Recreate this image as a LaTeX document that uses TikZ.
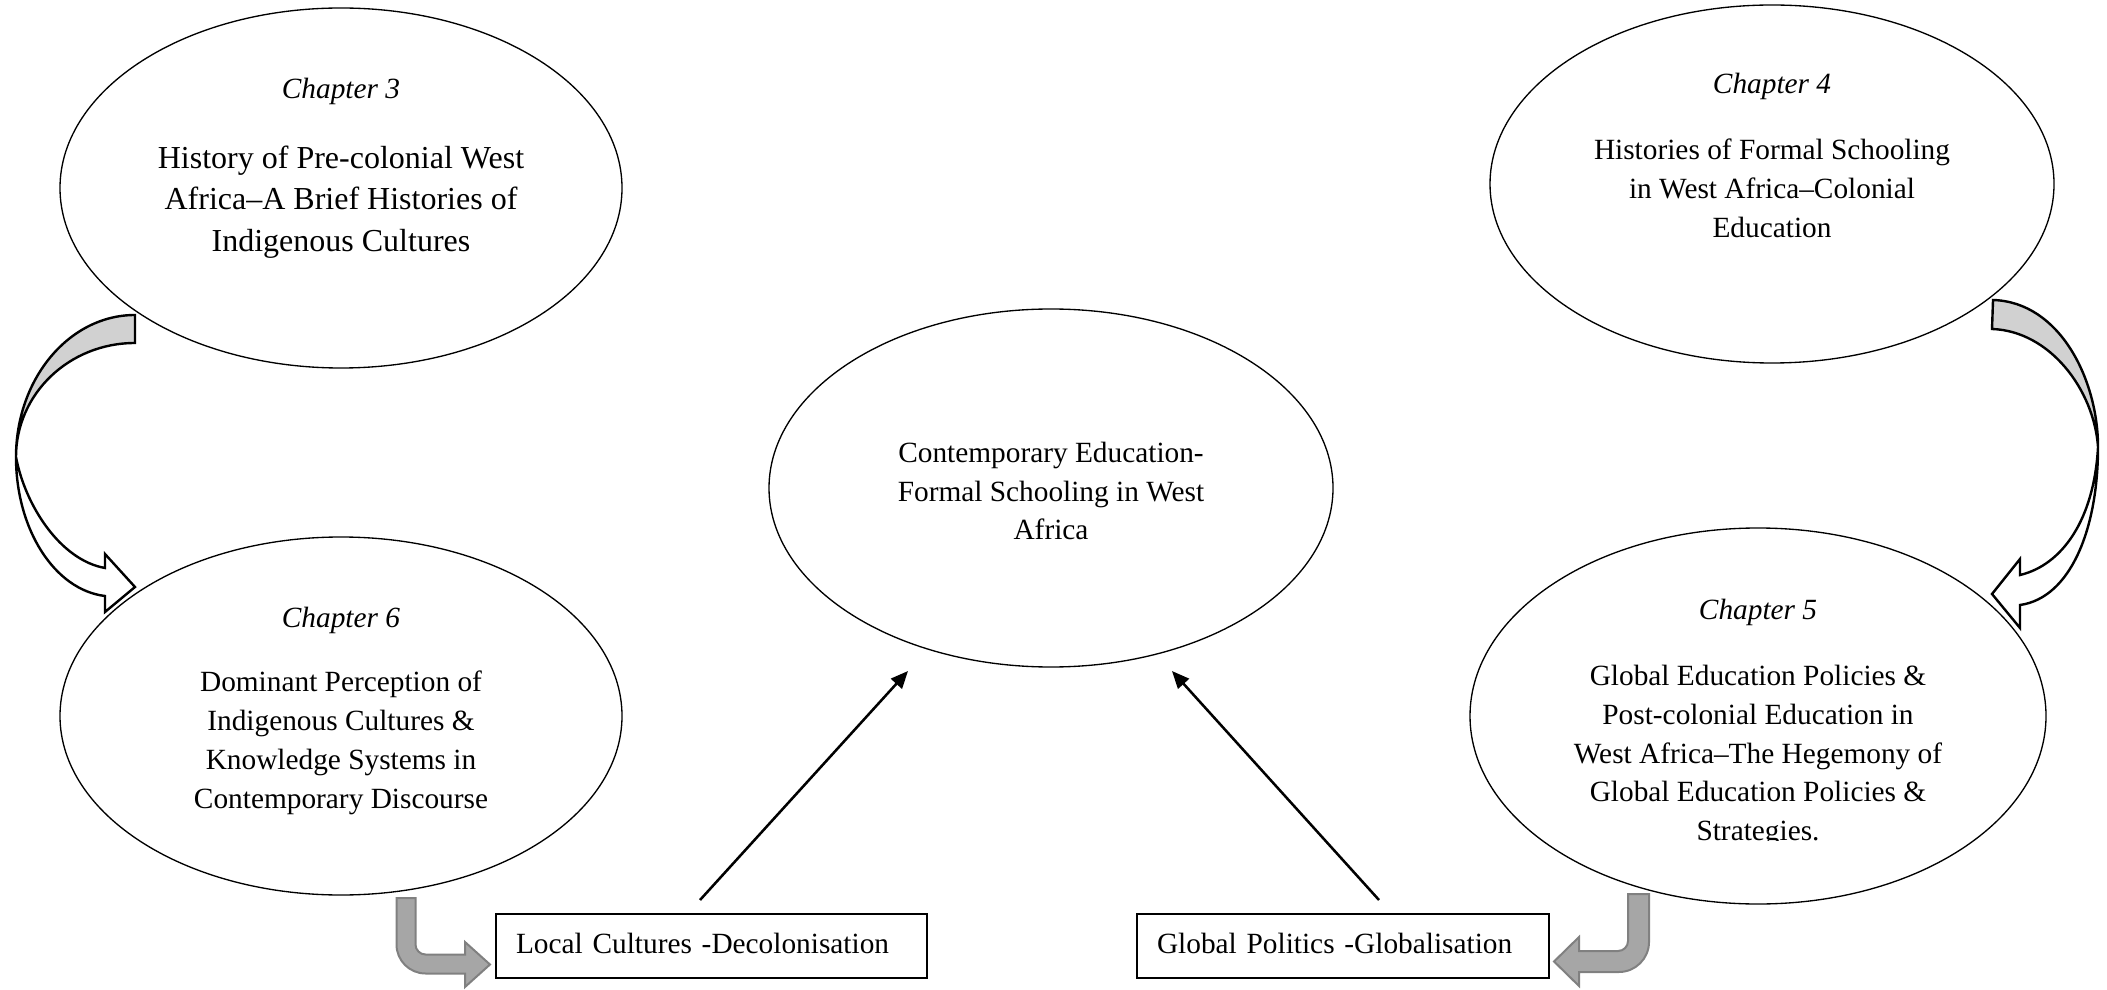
\documentclass[tikz,border=0pt]{standalone}
\usepackage{fontspec}
\setmainfont{Liberation Serif}
\usetikzlibrary{shapes.geometric,arrows.meta}

\begin{document}
\begin{tikzpicture}[x=0.375pt,y=-0.375pt,
  oval/.style={draw,ellipse,inner sep=0pt,line width=0.5pt},
  chaplabel/.style={font=\fontsize{11}{14.6}\selectfont\itshape,inner sep=0pt},
  bodytext/.style={font=\fontsize{11}{14.6}\selectfont,align=center,inner sep=0pt},
  bigbody/.style={font=\fontsize{12}{15.6}\selectfont,align=center,inner sep=0pt},
  themebox/.style={draw,line width=0.55pt,rectangle,minimum height=24pt,
    inner xsep=7.5pt,inner ysep=0pt,align=left,text height=7.5pt,text depth=2pt,
    font=\fontsize{11}{14}\selectfont},
  curvebody/.style={draw=black,line width=0.9pt,line join=miter},
  bentarrow/.style={draw=black!50,fill=black!35,line width=0.75pt},
  link/.style={line width=0.95pt,-{Triangle[length=6.5pt,width=5.5pt]}}
]

\useasboundingbox (0,0) rectangle (2107,990);

% chapter ellipses
\node[oval,minimum width=562*0.375pt,minimum height=360*0.375pt] (ch3) at (341,188) {};
\node[oval,minimum width=564*0.375pt,minimum height=358*0.375pt] (ch4) at (1772,184) {};
\node[oval,minimum width=564*0.375pt,minimum height=358*0.375pt] (core) at (1051,488) {};
\node[oval,minimum width=562*0.375pt,minimum height=358*0.375pt] (ch6) at (341,716) {};
\node[oval,minimum width=576*0.375pt,minimum height=376*0.375pt] (ch5) at (1758,716) {};

% chapter texts
\node[chaplabel] (ch3lab) at (341,91) {Chapter 3};
\node[bigbody] (ch3txt) at (341,202) {History of Pre-colonial West\\Africa–A Brief Histories of\\Indigenous Cultures};

\node[chaplabel] (ch4lab) at (1772,86) {Chapter 4};
\node[bodytext] (ch4txt) at (1772,188) {Histories of Formal Schooling\\in West Africa–Colonial\\Education};

\node[bodytext] (coretxt) at (1051,491) {Contemporary Education-\\Formal Schooling in West\\Africa};

\node[chaplabel] (ch6lab) at (341,620) {Chapter 6};
\node[bodytext] (ch6txt) at (341,743) {Dominant Perception of\\Indigenous Cultures \&\\Knowledge Systems in\\Contemporary Discourse};

\node[chaplabel] (ch5lab) at (1758,612) {Chapter 5};
\begin{scope}
  \clip (1400,640) rectangle (2100,840);
  \node[bodytext] (ch5txt) at (1758,756) {Global Education Policies \&\\Post-colonial Education in\\West Africa–The Hegemony of\\Global Education Policies \&\\Strategies.};
\end{scope}

% theme boxes
\node[themebox,text width=391*0.375pt] (local) at (711.5,946) {Local Cultures -Decolonisation};
\node[themebox,text width=372*0.375pt] (global) at (1343,946) {Global Politics -Globalisation};

% links into the central ellipse
\coordinate (l1s) at (700,900);
\coordinate (l1e) at (908,671);
\coordinate (l2s) at (1379,900);
\coordinate (l2e) at (1172,671);
\draw[link] (l1s) -- (l1e);
\draw[link] (l2s) -- (l2e);

% curved block arrow, left side
\filldraw[curvebody,fill=black!18] (135,315) -- (135,343)
  .. controls (69,343) and (16,394) .. (16,457)
  .. controls (16,379) and (69,315) .. (135,315) -- cycle;
\filldraw[curvebody,fill=white] (16,457)
  .. controls (16,530) and (55,590) .. (105,596)
  -- (105,612) -- (135,587) -- (105,554) -- (105,568)
  .. controls (60,560) and (25,505) .. (16,457) -- cycle;

% curved block arrow, right side
\filldraw[curvebody,fill=black!18] (1993,300)
  .. controls (2060,302) and (2098,380) .. (2098,447)
  .. controls (2094,390) and (2050,331) .. (1992,329) -- cycle;
\filldraw[curvebody,fill=white] (2098,447)
  .. controls (2098,530) and (2070,598) .. (2020,605)
  -- (2020,628) -- (1992,594) -- (2020,559) -- (2020,575)
  .. controls (2062,565) and (2094,520) .. (2098,447) -- cycle;

% bent arrows into the theme boxes
\filldraw[bentarrow] (396.5,898) -- (415.5,898) -- (415.5,944.5)
  .. controls (415.5,950) and (420,954.5) .. (425.5,954.5)
  -- (465,954.5) -- (465,942) -- (490,964.5) -- (465,987) -- (465,973.5)
  -- (425.5,973.5) .. controls (409.5,973.5) and (396.5,960.5) .. (396.5,944.5) -- cycle;
\filldraw[bentarrow] (1649,894) -- (1628,894) -- (1628,941)
  .. controls (1628,946.5) and (1623.5,951) .. (1618,951)
  -- (1579,951) -- (1579,937) -- (1554,961.5) -- (1579,986) -- (1579,972)
  -- (1619,972) .. controls (1635.5,972) and (1649,958.5) .. (1649,942) -- cycle;

\end{tikzpicture}
\end{document}
